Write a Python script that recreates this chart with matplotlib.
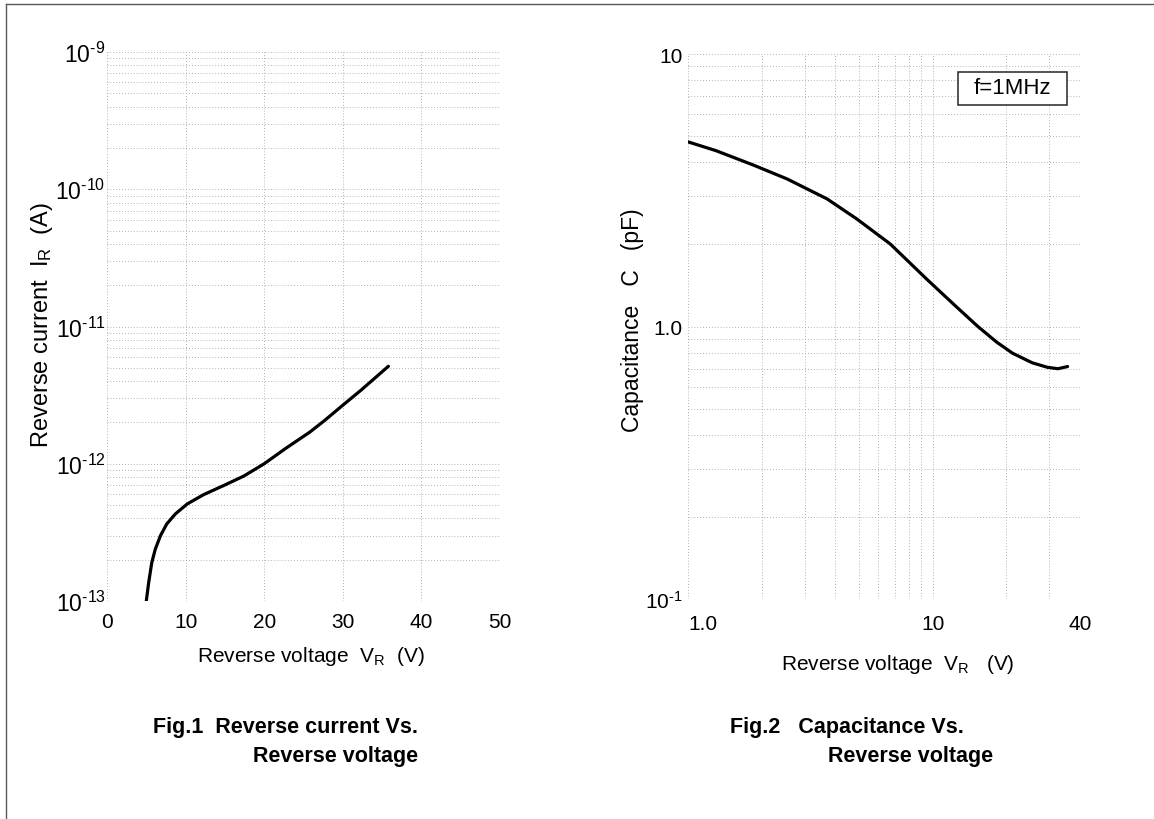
import matplotlib
matplotlib.use("Agg")
import matplotlib.pyplot as plt
from matplotlib.lines import Line2D
from matplotlib.patches import Rectangle
from matplotlib.ticker import FixedLocator, NullFormatter

plt.rcParams['font.family'] = ['Liberation Sans', 'DejaVu Sans']
plt.rcParams['mathtext.fontset'] = 'custom'
plt.rcParams['mathtext.rm'] = 'Liberation Sans'
plt.rcParams['mathtext.it'] = 'Liberation Sans:italic'
plt.rcParams['mathtext.bf'] = 'Liberation Sans:bold'

# Fig.1 reverse current vs reverse voltage
vr1 = [5.0, 5.3, 5.7, 6.15, 6.8, 7.6, 8.7, 10.2, 12.3, 14.8, 17.4, 20.0,
       22.7, 25.8, 27.7, 30.0, 32.3, 34.0, 35.8]
ir1 = [1.0e-13, 1.36e-13, 1.91e-13, 2.39e-13, 2.99e-13, 3.64e-13, 4.31e-13,
       5.09e-13, 5.96e-13, 6.92e-13, 8.13e-13, 1.0e-12, 1.29e-12, 1.70e-12,
       2.07e-12, 2.67e-12, 3.43e-12, 4.17e-12, 5.13e-12]

# Fig.2 capacitance vs reverse voltage
vr2 = [1.0, 1.3, 1.84, 2.54, 3.7, 4.9, 6.7, 9.5, 12.4, 15.3, 18.3, 21.2,
       25.5, 29.5, 32.5, 35.6]
cap2 = [4.76, 4.42, 3.92, 3.48, 2.94, 2.48, 2.01, 1.486, 1.189, 1.0, 0.875,
        0.798, 0.736, 0.708, 0.700, 0.713]

x1_ticks = [0, 10, 20, 30, 40, 50]
y1_ticks = [1e-13, 1e-12, 1e-11, 1e-10, 1e-9]
y1_labels = ['$10^{\\text{-}13}$', '$10^{\\text{-}12}$', '$10^{\\text{-}11}$',
             '$10^{\\text{-}10}$', '$10^{\\text{-}9}$']
x2_ticks = [1, 10, 40]
x2_labels = ['1.0', '10', '40']
y2_ticks = [0.1, 1, 10]
y2_labels = ['$10^{\\text{-}1}$', '1.0', '10']

W, H = 1154, 820
fig = plt.figure(figsize=(W / 100, H / 100), dpi=100)

def box(x0, y0, x1, y1):
    return [x0 / W, 1 - y1 / H, (x1 - x0) / W, (y1 - y0) / H]

grid_kw = dict(color='0.6', linestyle=(0, (1, 2.5)), linewidth=0.6)

# ---- Fig.1 ----
ax1 = fig.add_axes(box(107, 53, 500, 602))
ax1.set_yscale('log')
ax1.set_xlim(0, 50)
ax1.set_ylim(1e-13, 1e-9)
ax1.plot(vr1, ir1, color='black', lw=2.3, solid_capstyle='round',
         solid_joinstyle='round')
ax1.set_xticks(x1_ticks)
ax1.set_yticks(y1_ticks)
ax1.set_yticklabels(y1_labels)
ax1.yaxis.set_minor_locator(FixedLocator(
    [m * 10.0 ** e for e in range(-13, -9) for m in range(2, 10)]))
ax1.yaxis.set_minor_formatter(NullFormatter())
ax1.grid(True, which='major', axis='both', **grid_kw)
ax1.grid(True, which='minor', axis='y', **grid_kw)
ax1.tick_params(axis='y', labelsize=16.5, pad=1)
ax1.tick_params(axis='x', labelsize=15, pad=8)

# ---- Fig.2 ----
ax2 = fig.add_axes(box(688, 55, 1080, 600))
ax2.set_xscale('log')
ax2.set_yscale('log')
ax2.set_xlim(1, 40)
ax2.set_ylim(0.1, 10)
ax2.plot(vr2, cap2, color='black', lw=2.3, solid_capstyle='round',
         solid_joinstyle='round')
ax2.set_xticks(x2_ticks)
ax2.set_xticklabels(x2_labels)
ax2.get_xticklabels()[0].set_horizontalalignment('left')
ax2.set_yticks(y2_ticks)
ax2.set_yticklabels(y2_labels)
ax2.xaxis.set_minor_locator(FixedLocator([2, 3, 4, 5, 6, 7, 8, 9, 20, 30]))
ax2.yaxis.set_minor_locator(FixedLocator(
    [m * 0.1 for m in range(2, 10)] + [m * 1.0 for m in range(2, 10)]))
ax2.xaxis.set_minor_formatter(NullFormatter())
ax2.yaxis.set_minor_formatter(NullFormatter())
ax2.grid(True, which='both', axis='both', **grid_kw)
ax2.tick_params(axis='y', labelsize=15, pad=4)
ax2.tick_params(axis='x', labelsize=15, pad=11)

for ax in (ax1, ax2):
    for s in ax.spines.values():
        s.set_visible(False)
    ax.tick_params(which='both', length=0)
    ax.set_axisbelow(True)

# f=1MHz box
fig.add_artist(Rectangle((958 / W, 1 - 106 / H), 109 / W, 33 / H,
                         transform=fig.transFigure, fc='white', ec='0.15', lw=1.1))
fig.text(1012 / W, 1 - 89 / H, 'f=1MHz', ha='center', va='center', fontsize=16)

# axis titles
fig.text(42 / W, 1 - 325 / H, 'Reverse current  I$_\\mathrm{R}$  (A)', rotation=90,
         ha='center', va='center', fontsize=17)
fig.text(311 / W, 1 - 657 / H, 'Reverse voltage  V$_\\mathrm{R}$  (V)',
         ha='center', va='center', fontsize=15)
fig.text(632 / W, 1 - 320 / H, 'Capacitance   C   (pF)', rotation=90,
         ha='center', va='center', fontsize=16.5)
fig.text(898 / W, 1 - 665 / H, 'Reverse voltage  V$_\\mathrm{R}$   (V)',
         ha='center', va='center', fontsize=15)

# captions
cap_kw = dict(fontsize=15.5, fontweight='bold', va='center')
fig.text(153 / W, 1 - 728 / H, 'Fig.1  Reverse current Vs.', ha='left', **cap_kw)
fig.text(418 / W, 1 - 757 / H, 'Reverse voltage', ha='right', **cap_kw)
fig.text(730 / W, 1 - 728 / H, 'Fig.2   Capacitance Vs.', ha='left', **cap_kw)
fig.text(828 / W, 1 - 757 / H, 'Reverse voltage', ha='left', **cap_kw)

# scan frame (top and left edges)
fig.add_artist(Line2D([6 / W, 1], [1 - 5 / H, 1 - 5 / H], color='0.35', lw=1.0))
fig.add_artist(Line2D([6 / W, 6 / W], [0, 1 - 5 / H], color='0.35', lw=1.0))

fig.savefig('out.png', dpi=100, facecolor='white')
